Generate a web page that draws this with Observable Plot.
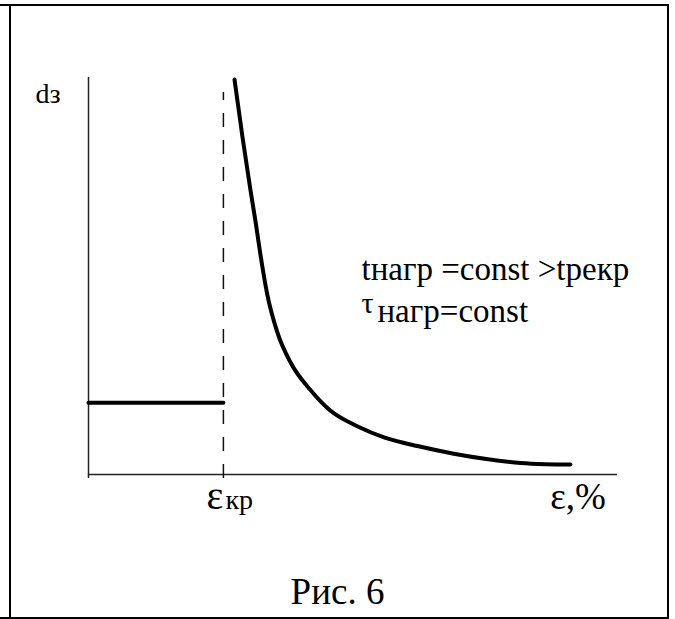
<!DOCTYPE html>
<html><head><meta charset="utf-8">
<script src="https://cdn.jsdelivr.net/npm/d3@7"></script>
<script src="https://cdn.jsdelivr.net/npm/@observablehq/plot@0.6"></script>
<style>
body{margin:0;background:#fff;}
#wrap{position:relative;width:675px;height:619px;overflow:hidden;font-family:'Liberation Serif';background:#fff;}
.b{position:absolute;background:#000;}
#chart{position:absolute;left:0;top:0;}
#chart svg, #chart svg text, #chart svg g{font-family:'Liberation Serif' !important;}
#cap{position:absolute;left:0;width:675px;top:572px;text-align:center;font-size:37px;line-height:40px;color:#000;font-family:'Liberation Serif' !important;}
</style></head><body>
<div id="wrap">
<div id="chart"></div>
<div class="b" style="left:0;top:4px;width:669px;height:2px"></div>
<div class="b" style="left:9px;top:4px;width:2px;height:615px"></div>
<div class="b" style="left:667px;top:4px;width:2px;height:615px"></div>
<div class="b" style="left:0;top:617px;width:669px;height:2px"></div>
<div id="cap">Рис. 6</div>
</div>
<script>
// Values (ε in %, grain size d in relative units 0..100)
const epsCurve = [27.6, 29.1, 30.6, 31.6, 32.5, 33.8, 35.7, 38.2, 42.0, 45.7, 50.9, 56.0, 62.4, 68.8, 75.2, 81.7, 86.4, 91.1];
const dCurve   = [99.5, 85.1, 71.8, 63.5, 55.4, 45.3, 35.8, 28.2, 21.2, 16.1, 12.1, 9.3, 7.1, 5.3, 3.9, 2.9, 2.6, 2.5];
const epsPlateau = [0, 25.5];
const dPlateau = [18.1, 18.1];
const epsKr = 25.5;
const labels = {y: "dз", kr: "ε", krSub: "кр", x: "ε,%",
  note1: "tнагр =const >tрекр", note2a: "τ", note2b: "нагр=const"};

const curve = epsCurve.map((e, i) => ({e, d: dCurve[i]}));
const plateau = epsPlateau.map((e, i) => ({e, d: dPlateau[i]}));

const serif = "Liberation Serif";
const txt = (o) => ({text: d => d, textAnchor: "start", lineAnchor: "bottom", fill: "#000", fontFamily: serif, ...o});
const chart = Plot.plot({
  width: 675,
  height: 619,
  marginLeft: 88,
  marginRight: 58,
  marginTop: 77,
  marginBottom: 145,
  style: {background: "transparent", fontFamily: serif, overflow: "visible"},
  x: {domain: [0, 100], axis: null},
  y: {domain: [0, 100], axis: null},
  marks: [
    Plot.ruleX([0], {y1: -1, y2: 100, stroke: "#222", strokeWidth: 1.5}),
    Plot.ruleY([0], {x1: 0, x2: 100, stroke: "#222", strokeWidth: 1.5}),
    Plot.ruleX([epsKr], {y1: -1, y2: 96.2, stroke: "#111", strokeWidth: 1.5, strokeDasharray: "14,13"}),
    Plot.line(plateau, {x: "e", y: "d", stroke: "#000", strokeWidth: 4}),
    Plot.line(curve, {x: "e", y: "d", stroke: "#000", strokeWidth: 4, curve: "monotone-x"}),
    Plot.text([labels.y], txt({x: () => -10, y: () => 93.7, fontSize: 28})),
    Plot.text([labels.kr], txt({x: () => epsKr, y: () => -8.8, textAnchor: "end", fontSize: 40, dx: 0})),
    Plot.text([labels.krSub], txt({x: () => epsKr, y: () => -8.8, fontSize: 28, dx: 2})),
    Plot.text([labels.x], txt({x: () => 87.3, y: () => -8.8, fontSize: 37})),
    Plot.text([labels.note1], txt({x: () => 51.6, y: () => 49.1, fontSize: 33})),
    Plot.text([labels.note2a], txt({x: () => 51.6, y: () => 40.6, fontSize: 30})),
    Plot.text([labels.note2b], txt({x: () => 51.6, y: () => 38.5, fontSize: 33, dx: 16}))
  ]
});
document.getElementById("chart").appendChild(chart);
</script>
</body></html>
